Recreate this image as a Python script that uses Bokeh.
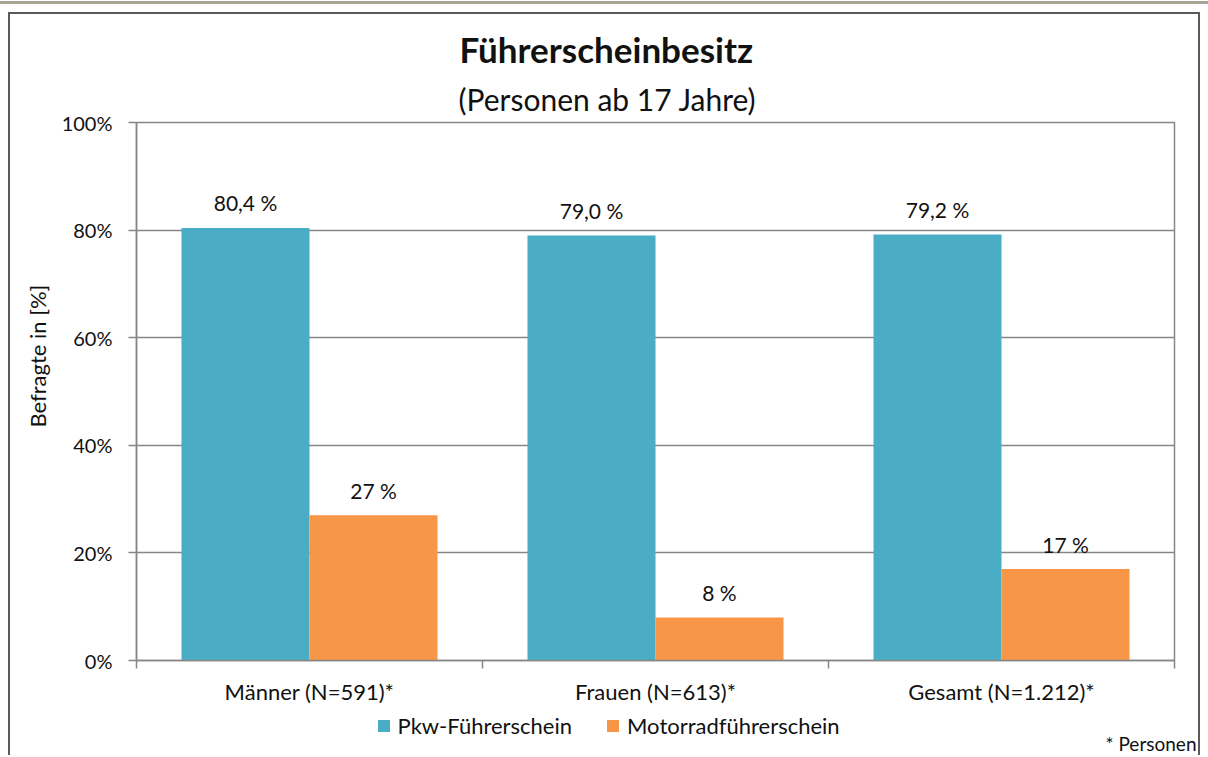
from bokeh.plotting import figure
from bokeh.layouts import column
from bokeh.models import (Range1d, FixedTicker, PrintfTickFormatter, ColumnDataSource,
                          LabelSet, Label, Legend, LegendItem, Title, Div)
from bokeh.core.properties import value
from bokeh.embed import file_html
from bokeh.resources import INLINE

# ---- data ----
categories = ["Männer (N=591)*", "Frauen (N=613)*", "Gesamt (N=1.212)*"]
pkw = [80.4, 79.0, 79.2]
motorrad = [27, 8, 17]
pkw_labels = ["80,4 %", "79,0 %", "79,2 %"]
motorrad_labels = ["27 %", "8 %", "17 %"]
series_names = ["Pkw-Führerschein", "Motorradführerschein"]
y_ticks = [0, 20, 40, 60, 80, 100]
title_text = "Führerscheinbesitz"
subtitle_text = "(Personen ab 17 Jahre)"
y_label = "Befragte in [%]"
footnote = "* Personen"

FONT = "Lato"
BLUE = "#4BACC6"
ORANGE = "#F79646"
GRID = "#868686"
TXT = "#111111"
BORDER = "2px solid #5a5a5a"

# page geometry
OX, OY = 10, 14            # canvas origin of main figure on the page
W = 1192
SPLIT = 712                # page y where the legend strip begins
FRAME_L, FRAME_R, FRAME_T, FRAME_B = 136, 1174, 122, 660
H1 = SPLIT - OY
H2 = 757 - SPLIT

BAR_W = 0.37
idx = list(range(len(categories)))
src_pkw = ColumnDataSource(dict(x=[i + 0.5 - BAR_W / 2 for i in idx], y=pkw, lab=pkw_labels))
src_mot = ColumnDataSource(dict(x=[i + 0.5 + BAR_W / 2 for i in idx], y=motorrad, lab=motorrad_labels))

p = figure(width=W, height=H1, output_backend="svg", toolbar_location=None, title=None,
           x_range=Range1d(0, len(categories)), y_range=Range1d(0, y_ticks[-1]),
           min_border_left=FRAME_L - OX, min_border_right=OX + W - FRAME_R,
           min_border_top=FRAME_T - OY, min_border_bottom=SPLIT - FRAME_B,
           margin=(8, 0, 0, 8),
           styles={"border-left": BORDER, "border-top": BORDER, "border-right": BORDER})
p.background_fill_color = "white"
p.border_fill_color = "white"
p.outline_line_color = GRID
p.outline_line_width = 1.5

r1 = p.vbar(x="x", top="y", width=BAR_W, source=src_pkw, fill_color=BLUE, line_color=None)
r2 = p.vbar(x="x", top="y", width=BAR_W, source=src_mot, fill_color=ORANGE, line_color=None)

for src in (src_pkw, src_mot):
    p.add_layout(LabelSet(x="x", y="y", text="lab", source=src, text_align="center",
                          text_baseline="middle", y_offset=25, text_font=value(FONT),
                          text_font_size="21px", text_color=TXT))

# y axis
ya = p.yaxis[0]
ya.ticker = FixedTicker(ticks=y_ticks)
ya.formatter = PrintfTickFormatter(format="%d%%")
ya.axis_line_color = GRID
ya.axis_line_width = 1.5
ya.major_tick_line_color = GRID
ya.major_tick_line_width = 1.5
ya.major_tick_out = 8
ya.major_tick_in = 0
ya.minor_tick_line_color = None
ya.major_label_standoff = 16
ya.major_label_text_font = FONT
ya.major_label_text_font_size = "20px"
ya.major_label_text_color = TXT

# y axis title (left-side title, starting where the reference's starts)
p.add_layout(Title(text=y_label, align="left", offset=FRAME_B - 427, standoff=16,
                   text_font=FONT, text_font_size="22px", text_font_style="normal",
                   text_color=TXT), "left")

# x axis (ticks at category boundaries)
xa = p.xaxis[0]
xa.ticker = FixedTicker(ticks=[i + 0.5 for i in idx], minor_ticks=list(range(len(categories) + 1)))
xa.major_label_overrides = {i + 0.5: c for i, c in zip(idx, categories)}
xa.axis_line_color = GRID
xa.axis_line_width = 1.5
xa.major_tick_line_color = None
xa.major_tick_out = 0
xa.major_tick_in = 0
xa.minor_tick_line_color = GRID
xa.minor_tick_line_width = 1.5
xa.minor_tick_out = 8
xa.minor_tick_in = 0
xa.major_label_standoff = 9
xa.major_label_text_font = FONT
xa.major_label_text_font_size = "22px"
xa.major_label_text_color = TXT

p.xgrid.grid_line_color = None
p.ygrid.grid_line_color = GRID
p.ygrid.grid_line_width = 1.5

# titles (nearest to the frame first), placed over the chart centre like the reference
p.add_layout(Title(text=subtitle_text, align="left", offset=458 - FRAME_L,
                   text_font=FONT, text_font_size="30px", text_font_style="normal",
                   text_color=TXT, standoff=12), "above")
p.add_layout(Title(text=title_text, align="left", offset=459 - FRAME_L,
                   text_font=FONT, text_font_size="35px", text_font_style="bold",
                   text_color=TXT, standoff=6), "above")

# ---- legend strip below ----
p2 = figure(width=W, height=H2, output_backend="svg", toolbar_location=None, title=None,
            x_range=Range1d(-100 - W, -100), y_range=Range1d(0, H2), min_border=0,
            x_axis_location=None, y_axis_location=None,
            margin=(0, 0, 0, 8),
            styles={"border-left": BORDER, "border-right": BORDER})
if "frame_align" in p2.properties():
    p2.frame_align = False
    p.frame_align = False
p2.background_fill_color = "white"
p2.border_fill_color = "white"
p2.outline_line_color = None
p2.grid.grid_line_color = None

# legend proxies: same data, outside this strip's visible range
l1 = p2.vbar(x="x", top="y", width=BAR_W, source=src_pkw, fill_color=BLUE, line_color=None)
l2 = p2.vbar(x="x", top="y", width=BAR_W, source=src_mot, fill_color=ORANGE, line_color=None)

LEG_H = 29
legend = Legend(items=[LegendItem(label=series_names[0], renderers=[l1]),
                       LegendItem(label=series_names[1], renderers=[l2])],
                orientation="horizontal",
                location=(377 - OX - 1.5, H2 - (727 - SPLIT) - LEG_H / 2),
                glyph_width=15, glyph_height=15, label_height=LEG_H, label_standoff=7,
                spacing=33, padding=0, margin=0, border_line_color=None,
                background_fill_alpha=0, label_text_font=FONT, label_text_font_size="22px",
                label_text_color=TXT)
p2.add_layout(legend, "center")

p2.add_layout(Label(x=1196 - OX, y=H2 - (745 - SPLIT), x_units="screen", y_units="screen",
                    text=footnote, text_align="right", text_baseline="middle",
                    text_font=FONT, text_font_size="19px", text_color=TXT))

topline = Div(text="", width=1208, height=3, margin=(1, 0, 0, 0),
              styles={"background-color": "#A7A496"})

layout = column(topline, p, p2, spacing=0)
open("out.html", "w").write(file_html(layout, INLINE))
